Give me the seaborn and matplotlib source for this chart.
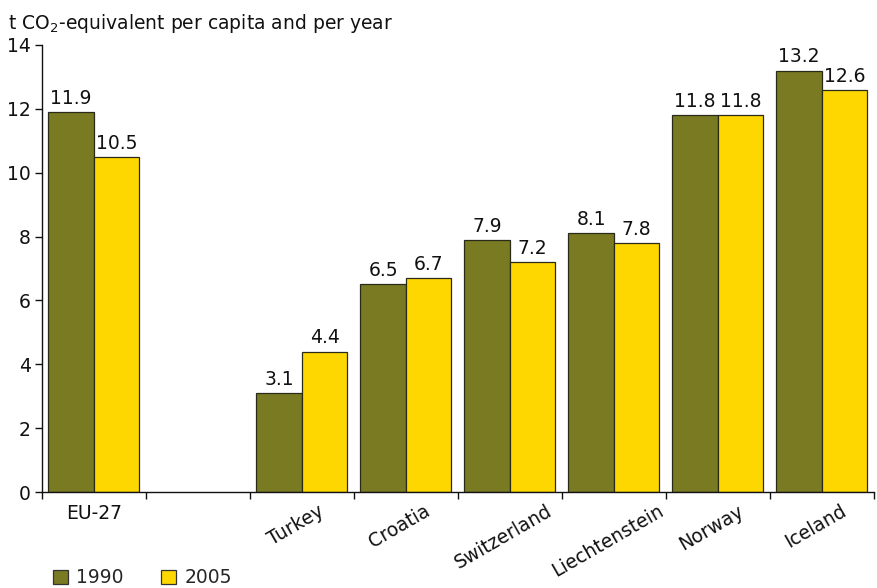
import matplotlib
matplotlib.use("Agg")
import matplotlib.pyplot as plt
import seaborn as sns
import pandas as pd
import numpy as np
from matplotlib.patches import Patch

countries = ["EU-27", " ", "Turkey", "Croatia", "Switzerland", "Liechtenstein", "Norway", "Iceland"]
values_1990 = [11.9, np.nan, 3.1, 6.5, 7.9, 8.1, 11.8, 13.2]
values_2005 = [10.5, np.nan, 4.4, 6.7, 7.2, 7.8, 11.8, 12.6]
years = ["1990", "2005"]
colors = ["#7a7a22", "#ffd700"]

df = pd.DataFrame({
    "country": countries * 2,
    "year": [years[0]] * len(countries) + [years[1]] * len(countries),
    "value": values_1990 + values_2005,
})

sns.set_theme(style="white")
plt.rcParams["font.family"] = ["DejaVu Sans"]
plt.rcParams["mathtext.fontset"] = "dejavusans"

FS = 13.5
TXT = "#111111"

fig = plt.figure(figsize=(8.78, 5.88), dpi=100)
ax = fig.add_axes([42 / 878, 96 / 588, 832 / 878, 447 / 588])

sns.barplot(data=df, x="country", y="value", hue="year", order=countries,
            hue_order=years, palette=colors, saturation=1, width=0.875, gap=0,
            edgecolor="#2a2a1a", linewidth=0.9, legend=False, ax=ax, errorbar=None)

for cont in ax.containers:
    ax.bar_label(cont, fmt="%.1f", padding=3, fontsize=FS, color=TXT)

ax.set_xlim(-0.5, len(countries) - 0.5)
ax.set_ylim(0, 14)
ax.set_yticks(np.arange(0, 15, 2))
ax.tick_params(axis="y", which="major", length=5, width=1, direction="out",
               labelsize=FS, pad=3, left=True, colors=TXT)
ax.set_xticks(range(len(countries)))
ax.set_xticklabels([])
ax.tick_params(axis="x", which="major", length=0)
ax.set_xticks(np.arange(-0.5, len(countries)), minor=True)
ax.tick_params(axis="x", which="minor", length=5, width=1, direction="out",
               bottom=True, color=TXT)

for i, name in enumerate(countries):
    if name.strip() == "":
        continue
    if i == 0:
        ax.text(i, -0.38, name, ha="center", va="top", fontsize=FS, color=TXT)
    else:
        ax.text(i - 0.06, -0.3, name, ha="center", va="top", fontsize=FS,
                rotation=30, color=TXT)

ax.set_xlabel("")
ax.set_ylabel("")
for side in ["top", "right"]:
    ax.spines[side].set_visible(False)
for side in ["left", "bottom"]:
    ax.spines[side].set_color(TXT)
    ax.spines[side].set_linewidth(1)

fig.text(8 / 878, 1 - 29 / 588, "t CO$_2$-equivalent per capita and per year",
         fontsize=FS, ha="left", va="baseline", color=TXT)

handles = [Patch(facecolor=c, edgecolor="#333333", linewidth=0.9) for c in colors]
fig.legend(handles, years, loc="lower left", bbox_to_anchor=(0.045, -0.021),
           ncol=2, frameon=False, fontsize=FS, handlelength=0.8, handleheight=0.8,
           handletextpad=0.45, columnspacing=2.0, borderpad=0.2)

fig.savefig("out.png", dpi=100)
